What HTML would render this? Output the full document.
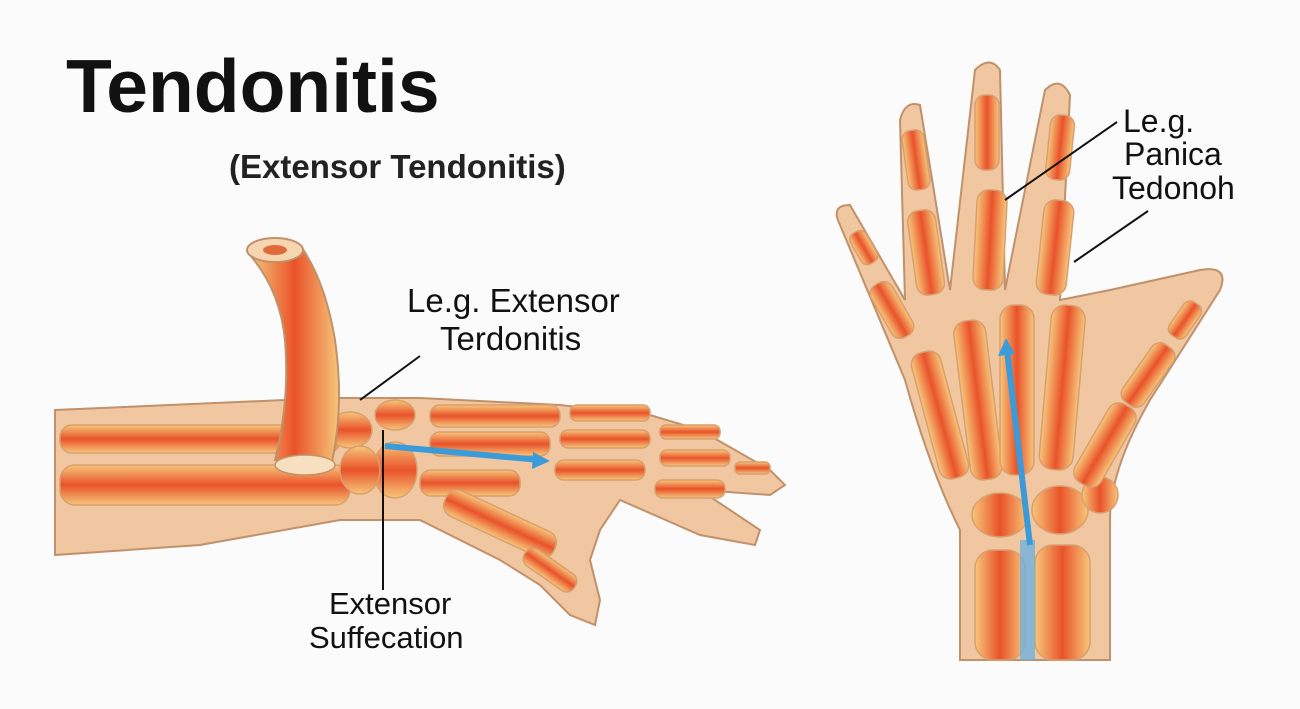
<!DOCTYPE html>
<html><head><meta charset="utf-8"><style>
html,body{margin:0;padding:0;background:#fbfbfb;}
svg{display:block}
</style></head><body>
<svg width="1300" height="709" viewBox="0 0 1300 709" xmlns="http://www.w3.org/2000/svg" font-family="Liberation Sans, sans-serif">
<defs>
<linearGradient id="bone" x1="0" y1="0" x2="0" y2="1"><stop offset="0" stop-color="#f7c77a"/><stop offset="0.5" stop-color="#e9522a"/><stop offset="1" stop-color="#f7c77a"/></linearGradient>
<linearGradient id="boneh" x1="0" y1="0" x2="1" y2="0"><stop offset="0" stop-color="#f7c77a"/><stop offset="0.5" stop-color="#e9522a"/><stop offset="1" stop-color="#f7c77a"/></linearGradient>
</defs>
<rect width="1300" height="709" fill="#fbfbfb"/>
<text x="66" y="112" font-size="75" font-weight="bold" fill="#111">Tendonitis</text>
<text x="229" y="178" font-size="33" font-weight="bold" fill="#222">(Extensor Tendonitis)</text>

<!-- Left arm -->
<path d="M55 410 L330 398 L420 398 L560 405 L650 415 L700 430 L770 470 L785 485 L770 495 L700 490 L760 530 L755 545 L700 535 L620 500 L600 530 L590 560 L600 600 L595 625 L570 615 L540 585 L500 560 L420 520 L340 520 L200 545 L55 555 Z" fill="#f1c7a1" stroke="#c0916a" stroke-width="2"/>
<rect x="60" y="425" width="280" height="28" rx="12" fill="url(#bone)" stroke="#d8a070" stroke-width="1.5"/>
<rect x="60" y="465" width="290" height="40" rx="15" fill="url(#bone)" stroke="#d8a070" stroke-width="1.5"/>
<g fill="url(#bone)" stroke="#d8a070" stroke-width="1.5">
<ellipse cx="350" cy="430" rx="22" ry="18"/><ellipse cx="395" cy="415" rx="20" ry="15"/><ellipse cx="395" cy="470" rx="22" ry="28"/><ellipse cx="360" cy="470" rx="20" ry="24"/>
<rect x="430" y="405" width="130" height="22" rx="10"/><rect x="430" y="432" width="120" height="24" rx="10"/><rect x="420" y="470" width="100" height="26" rx="11"/>
<rect x="570" y="405" width="80" height="16" rx="7"/><rect x="560" y="430" width="90" height="18" rx="8"/><rect x="555" y="460" width="90" height="20" rx="9"/>
<rect x="660" y="425" width="60" height="14" rx="6"/><rect x="660" y="450" width="70" height="16" rx="7"/><rect x="655" y="480" width="70" height="18" rx="8"/>
<rect x="735" y="462" width="35" height="12" rx="5"/>
<rect x="440" y="510" width="120" height="28" rx="12" transform="rotate(25 500 524)"/>
<rect x="520" y="560" width="60" height="20" rx="9" transform="rotate(35 550 570)"/>
</g>
<!-- tube -->
<path d="M250 255 Q280 290 285 340 Q290 400 275 460 L330 470 Q345 410 335 340 Q325 280 300 245 Z" fill="url(#boneh)" stroke="#c0916a" stroke-width="2"/>
<ellipse cx="275" cy="250" rx="28" ry="12" fill="#f6d6b0" stroke="#c0916a" stroke-width="2"/>
<ellipse cx="275" cy="250" rx="12" ry="5" fill="#e06a3a"/>
<ellipse cx="305" cy="465" rx="30" ry="10" fill="#f6e0c0" stroke="#c0916a" stroke-width="1.5"/>
<!-- arrows left -->
<line x1="385" y1="446" x2="540" y2="460" stroke="#3b9bd8" stroke-width="6"/>
<polygon points="550,461 533,452 532,469" fill="#3b9bd8"/>
<line x1="420" y1="356" x2="360" y2="400" stroke="#111" stroke-width="2"/>
<line x1="383" y1="430" x2="383" y2="590" stroke="#111" stroke-width="2"/>
<text x="407" y="312" font-size="33" fill="#111">Le.g. Extensor</text>
<text x="440" y="350" font-size="33" fill="#111">Terdonitis</text>
<text x="329" y="614" font-size="31" fill="#111">Extensor</text>
<text x="309" y="648" font-size="31" fill="#111">Suffecation</text>

<!-- Right hand -->
<path d="M960 660 L960 530 Q930 470 905 380 L840 225 Q830 205 850 205 L905 300 L900 120 Q905 100 920 105 L950 290 L975 70 Q990 55 1000 70 L1005 290 L1045 90 Q1060 75 1070 95 L1060 300 L1110 290 L1200 270 Q1230 265 1220 290 L1150 400 Q1110 470 1110 520 L1110 660 Z" fill="#f1c7a1" stroke="#c0916a" stroke-width="2"/>
<g fill="url(#boneh)" stroke="#d8a070" stroke-width="1.5">
<rect x="975" y="550" width="50" height="110" rx="18"/><rect x="1035" y="545" width="55" height="115" rx="18"/>
<ellipse cx="1000" cy="515" rx="28" ry="22"/><ellipse cx="1060" cy="510" rx="28" ry="24"/><ellipse cx="1100" cy="495" rx="18" ry="18"/>
<rect x="925" y="350" width="30" height="130" rx="12" transform="rotate(-15 940 415)"/>
<rect x="962" y="320" width="32" height="160" rx="13" transform="rotate(-7 978 400)"/>
<rect x="1000" y="305" width="34" height="170" rx="14"/>
<rect x="1045" y="305" width="34" height="165" rx="14" transform="rotate(5 1062 390)"/>
<rect x="1090" y="400" width="30" height="90" rx="12" transform="rotate(30 1105 445)"/>
<rect x="1135" y="340" width="26" height="70" rx="10" transform="rotate(35 1148 375)"/>
<rect x="1175" y="300" width="20" height="40" rx="8" transform="rotate(35 1185 320)"/>
<rect x="880" y="280" width="24" height="60" rx="10" transform="rotate(-30 892 310)"/>
<rect x="855" y="230" width="18" height="35" rx="7" transform="rotate(-30 864 248)"/>
<rect x="912" y="210" width="28" height="85" rx="11" transform="rotate(-8 926 252)"/>
<rect x="905" y="130" width="22" height="60" rx="9" transform="rotate(-8 916 160)"/>
<rect x="975" y="190" width="30" height="100" rx="12" transform="rotate(3 990 240)"/>
<rect x="975" y="95" width="24" height="75" rx="10"/>
<rect x="1040" y="200" width="30" height="95" rx="12" transform="rotate(6 1055 248)"/>
<rect x="1048" y="115" width="24" height="65" rx="10" transform="rotate(6 1060 148)"/>
</g>
<rect x="1020" y="540" width="15" height="120" fill="#6fb2e0" opacity="0.8"/>
<line x1="1030" y1="545" x2="1007" y2="350" stroke="#3b9bd8" stroke-width="6"/>
<polygon points="1006,338 998,356 1015,354" fill="#3b9bd8"/>
<line x1="1117" y1="122" x2="1005" y2="200" stroke="#111" stroke-width="2"/>
<line x1="1148" y1="211" x2="1074" y2="262" stroke="#111" stroke-width="2"/>
<text x="1123" y="132" font-size="32" fill="#111">Le.g.</text>
<text x="1124" y="165" font-size="32" fill="#111">Panica</text>
<text x="1112" y="199" font-size="32" fill="#111">Tedonoh</text>
</svg>
</body></html>
